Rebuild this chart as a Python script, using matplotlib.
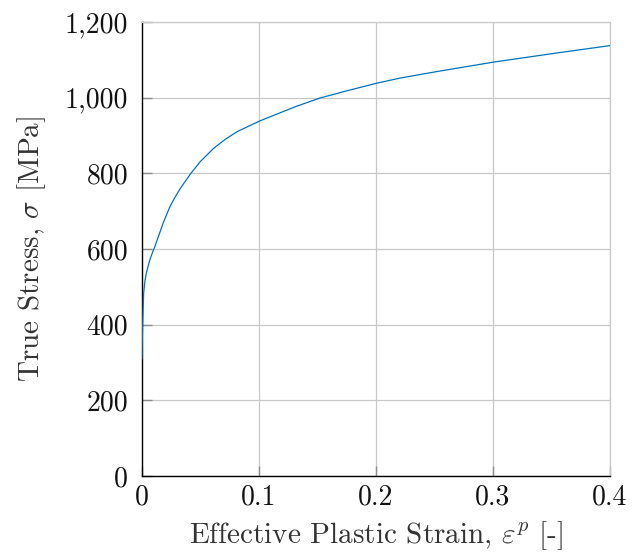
import matplotlib
matplotlib.use("Agg")
import matplotlib.pyplot as plt
from matplotlib.ticker import FixedLocator, FixedFormatter

plt.rcParams['font.family'] = 'serif'
plt.rcParams['font.serif'] = ['cmr10', 'DejaVu Serif']
plt.rcParams['mathtext.fontset'] = 'cm'
plt.rcParams['axes.unicode_minus'] = False

# Data
strain = [0.0, 0.0003, 0.0006, 0.0014, 0.0025, 0.0037, 0.0055, 0.0071, 0.009,
          0.0108, 0.0137, 0.018, 0.0236, 0.0275, 0.0327, 0.0413, 0.0498,
          0.0612, 0.0712, 0.0812, 0.1003, 0.118, 0.131, 0.152, 0.175, 0.2003,
          0.221, 0.252, 0.3005, 0.352, 0.4009]
stress = [310, 365, 404, 483, 515, 536, 558, 575, 591,
          605, 630, 668, 710, 733, 760, 798, 831,
          866, 890, 910, 938, 960, 976, 999, 1018, 1038,
          1052, 1069, 1094, 1117, 1138]

x_ticks = [0, 0.1, 0.2, 0.3, 0.4]
x_tick_labels = ['0', '0.1', '0.2', '0.3', '0.4']
y_ticks = [0, 200, 400, 600, 800, 1000, 1200]
y_tick_labels = ['0', '200', '400', '600', '800', '1,000', '1,200']

fig = plt.figure(figsize=(6.42, 5.53), dpi=100)
ax = fig.add_axes([142/642, 1 - 476/553, (610-142)/642, (476-22)/553])

ax.plot(strain, stress, color='#0072BD', lw=0.9, zorder=3)

ax.set_xlim(0, 0.4)
ax.set_ylim(0, 1200)
ax.xaxis.set_major_locator(FixedLocator(x_ticks))
ax.xaxis.set_major_formatter(FixedFormatter(x_tick_labels))
ax.yaxis.set_major_locator(FixedLocator(y_ticks))
ax.yaxis.set_major_formatter(FixedFormatter(y_tick_labels))

ax.grid(True, color='#c8c8c8', lw=0.9, zorder=0)
ax.set_axisbelow(True)
for s in ['top', 'right']:
    ax.spines[s].set_color('#c8c8c8')
    ax.spines[s].set_linewidth(0.9)
for s in ['left', 'bottom']:
    ax.spines[s].set_color('black')
    ax.spines[s].set_linewidth(1.0)

ax.tick_params(axis='both', direction='in', length=7.5, width=1.0,
               color='#8c8c8c', labelsize=20, labelcolor='#111111')
ax.tick_params(axis='y', pad=10)
ax.tick_params(axis='x', pad=6)

ax.set_xlabel(r'Effective Plastic Strain, $\varepsilon^p$ [-]', fontsize=21,
              color='#333333', labelpad=6)
ax.set_ylabel(r'True Stress, $\sigma$ [MPa]', fontsize=21, color='#333333',
              labelpad=12)

fig.savefig('out.png', dpi=100)
